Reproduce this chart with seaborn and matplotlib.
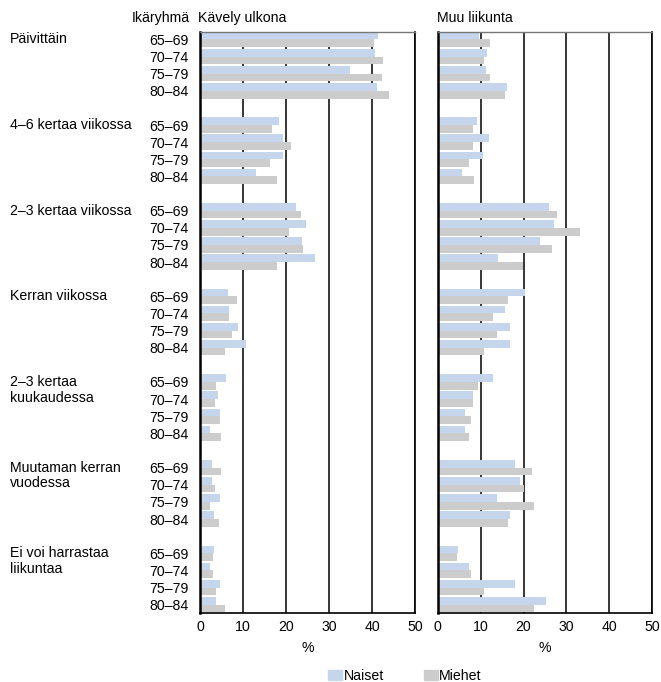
import numpy as np
import pandas as pd
import seaborn as sns
import matplotlib.pyplot as plt
from matplotlib.patches import Patch
from matplotlib.transforms import blended_transform_factory

# Values (% of age group)
groups = ["Päivittäin", "4–6 kertaa viikossa", "2–3 kertaa viikossa", "Kerran viikossa",
          "2–3 kertaa\nkuukaudessa", "Muutaman kerran\nvuodessa", "Ei voi harrastaa\nliikuntaa"]
ages = ["65–69", "70–74", "75–79", "80–84"]

kavely_naiset = [41.4, 40.8, 34.9, 41.2,
                 18.3, 19.3, 19.3, 13.0,
                 22.3, 24.6, 23.7, 26.7,
                 6.4, 6.7, 8.8, 10.6,
                 6.0, 4.1, 4.6, 2.3,
                 2.7, 2.7, 4.6, 3.2,
                 3.2, 2.3, 4.6, 3.7]
kavely_miehet = [40.5, 42.6, 42.3, 44.0,
                 16.7, 21.1, 16.2, 17.9,
                 23.5, 20.7, 23.9, 17.9,
                 8.5, 6.7, 7.4, 5.7,
                 3.7, 3.4, 4.6, 4.8,
                 4.8, 3.4, 2.3, 4.4,
                 3.0, 3.0, 3.7, 5.7]
muu_naiset = [9.6, 11.4, 11.2, 16.1,
              9.1, 11.9, 10.5, 5.6,
              25.9, 27.0, 23.8, 14.0,
              20.3, 15.6, 16.8, 16.8,
              12.8, 8.2, 6.3, 6.3,
              17.9, 19.1, 13.7, 16.8,
              4.7, 7.2, 17.9, 25.2]
muu_miehet = [12.3, 10.7, 12.3, 15.6,
              8.2, 8.2, 7.2, 8.4,
              27.7, 33.1, 26.6, 19.8,
              16.3, 12.8, 13.7, 10.9,
              9.5, 8.2, 7.7, 7.2,
              21.9, 20.0, 22.4, 16.3,
              4.4, 7.7, 10.7, 22.4]

blue = "#c5d6ec"
gray = "#cccccc"

sns.set_style("white")
plt.rcParams["font.family"] = ["Liberation Sans Narrow", "Liberation Sans", "DejaVu Sans"]
plt.rcParams["font.size"] = 10.2
plt.rcParams["text.color"] = "black"
plt.rcParams["xtick.color"] = "black"
plt.rcParams["ytick.color"] = "black"
plt.rcParams["axes.labelcolor"] = "black"

# one row per age group, an empty row between activity groups
pos = [g * 5 + a for g in range(len(groups)) for a in range(len(ages))]


def long_table(naiset, miehet):
    df_n = pd.DataFrame({"pos": pos, "arvo": naiset, "sukupuoli": "Naiset"})
    df_m = pd.DataFrame({"pos": pos, "arvo": miehet, "sukupuoli": "Miehet"})
    return pd.concat([df_n, df_m], ignore_index=True)


fig = plt.figure(figsize=(6.61, 6.82), dpi=100)
ax1 = fig.add_axes([200 / 661, 69.3 / 682, 215 / 661, 581 / 682])
ax2 = fig.add_axes([437.7 / 661, 69.3 / 682, 214.6 / 661, 581 / 682])

for ax, (nai, mie) in zip([ax1, ax2], [(kavely_naiset, kavely_miehet), (muu_naiset, muu_miehet)]):
    sns.barplot(data=long_table(nai, mie), x="arvo", y="pos", hue="sukupuoli",
                hue_order=["Naiset", "Miehet"], palette=[blue, gray], orient="y",
                native_scale=True, width=0.9, errorbar=None, legend=False, ax=ax,
                saturation=1, linewidth=0, edgecolor="none")
    ax.set_xlim(0, 50)
    ax.set_ylim(33.47, -0.45)
    ax.set_xticks([0, 10, 20, 30, 40, 50])
    ax.set_axisbelow(True)
    ax.grid(axis="x", color="black", lw=1.1)
    ax.grid(axis="y", visible=False)
    ax.tick_params(length=0, pad=5)
    ax.set_xlabel("%", labelpad=5)
    ax.set_ylabel("")
    ax.spines["top"].set_color("#777777")
    ax.spines["top"].set_linewidth(1.0)
    ax.spines["left"].set_color("black")
    ax.spines["left"].set_linewidth(1.8)
    for s in ["right", "bottom"]:
        ax.spines[s].set_color("black")
        ax.spines[s].set_linewidth(1.2)

ax1.set_yticks(pos)
ax1.set_yticklabels(ages * len(groups))
ax1.tick_params(axis="y", pad=8)
ax2.set_yticks([])

trans = blended_transform_factory(fig.transFigure, ax1.transData)
for g, name in enumerate(groups):
    for i, line in enumerate(name.split("\n")):
        ax1.text(10 / 661, g * 5 + i * 0.92, line, transform=trans, ha="left", va="center")

fig.text(190 / 661, 1 - 18 / 682, "Ikäryhmä", ha="right", va="center")
fig.text(198 / 661, 1 - 18 / 682, "Kävely ulkona", ha="left", va="center")
fig.text(437 / 661, 1 - 18 / 682, "Muu liikunta", ha="left", va="center")

handles = [Patch(color=blue, label="Naiset"), Patch(color=gray, label="Miehet")]
fig.legend(handles=handles, loc="center", bbox_to_anchor=(405 / 661, 1 - 676 / 682), ncol=2,
           frameon=False, handlelength=1.0, handleheight=0.75, handletextpad=0.1,
           columnspacing=2.8, borderaxespad=0)

fig.savefig("out.png", dpi=100)
